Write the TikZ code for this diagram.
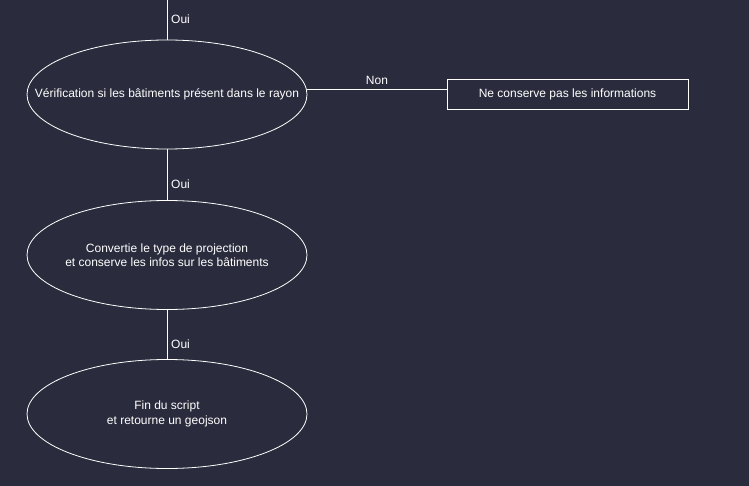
\documentclass[tikz,border=0pt]{standalone}
\usepackage{fontspec}
\setmainfont{Liberation Sans}
\usetikzlibrary{shapes.geometric}
\definecolor{bg}{HTML}{2A2C3D}
\begin{document}
\begin{tikzpicture}[x=1pt,y=-1pt,
  every node/.style={text=white,font=\fontsize{12}{14.5}\selectfont},
  ell/.style={draw=white,line width=0.8pt,ellipse,minimum width=280pt,minimum height=109pt,inner xsep=-60pt,inner ysep=0pt,align=center},
  boxn/.style={draw=white,line width=0.8pt,rectangle,minimum width=241pt,minimum height=30pt,inner sep=0pt},
  conn/.style={draw=white,line width=0.8pt},
  lbl/.style={anchor=west,inner sep=0pt}]
\fill[bg] (0,0) rectangle (749,486);
\useasboundingbox (0,0) rectangle (749,486);
\coordinate (top) at (167,0);
\node[ell] (e1) at (167,94.5) {Vérification si les bâtiments présent dans le rayon};
\node[ell] (e2) at (167,255) {Convertie le type de projection\\et conserve les infos sur les bâtiments};
\node[ell] (e3) at (167,414) {Fin du script\\et retourne un geojson};
\node[boxn] (r) at (567.5,94) {Ne conserve pas les informations};
\draw[conn] (top) -- (e1.north);
\draw[conn] (e1) -- (e2);
\draw[conn] (e2) -- (e3);
\coordinate (rl) at (r.west |- 0,89);
\draw[conn] (rl) -- (e1.east |- rl) ;
\node[lbl] (l1) at (171,19) {Oui};
\node[lbl] (l2) at (171,184) {Oui};
\node[lbl] (l3) at (171,344) {Oui};
\node[inner sep=0pt] (l4) at (377,80) {Non};
\end{tikzpicture}
\end{document}
